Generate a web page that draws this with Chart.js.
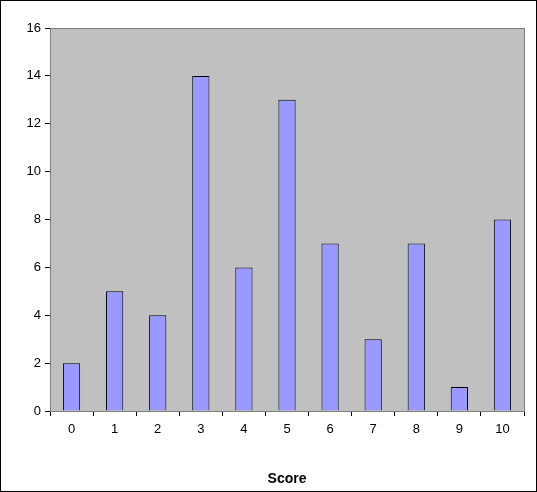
<!DOCTYPE html>
<html><head><meta charset="utf-8">
<script src="https://cdn.jsdelivr.net/npm/chart.js@4"></script>
<style>html,body{margin:0;padding:0;background:#fff}#w{width:537px;height:492px}</style>
</head><body><div id="w"><canvas id="c"></canvas></div>
<script>
const categories = ['0','1','2','3','4','5','6','7','8','9','10'];
const counts = [2,5,4,14,6,13,7,3,7,1,8];
const xTitle = 'Score';

const bg = {
  id:'bg',
  beforeDraw(ch){const {ctx,chartArea:a}=ch;ctx.save();ctx.fillStyle='#C0C0C0';ctx.fillRect(a.left,a.top,a.right-a.left,a.bottom-a.top);ctx.restore();},
  afterDraw(ch){const {ctx,chartArea:a}=ch;ctx.save();ctx.strokeStyle='#808080';ctx.lineWidth=1;
    ctx.strokeRect(Math.round(a.left)+0.5,Math.round(a.top)+0.5,Math.round(a.right-a.left),Math.round(a.bottom-a.top));
    ctx.strokeStyle='#000';ctx.strokeRect(0.5,0.5,ch.width-1,ch.height-1);ctx.restore();}
};
const font={family:'Arial, "Liberation Sans"',size:13};
new Chart(document.getElementById('c'),{
  type:'bar',
  data:{labels:categories,datasets:[{data:counts,backgroundColor:'#9999FF',borderColor:'#000',borderWidth:1,barPercentage:0.4,categoryPercentage:1}]},
  options:{responsive:true,maintainAspectRatio:false,animation:false,devicePixelRatio:1,
    layout:{padding:{left:8,top:28,right:13,bottom:0}},
    plugins:{legend:{display:false},tooltip:{enabled:false}},
    scales:{
      x:{offset:true,grid:{offset:true,drawOnChartArea:false,tickLength:5,color:'#000'},border:{color:'#000'},
        ticks:{color:'#000',font,padding:6},
        title:{display:true,text:xTitle,color:'#000',font:{family:'Arial, "Liberation Sans"',size:14,weight:'bold'},padding:{top:6}},
        afterFit(s){s.height=81;}},
      y:{min:0,max:16,grid:{drawOnChartArea:false,tickLength:5,color:'#000'},border:{color:'#000'},
        ticks:{stepSize:2,color:'#000',font,padding:4},
        afterFit(s){s.width=42;}}
    }
  },
  plugins:[bg]
});
</script></body></html>
